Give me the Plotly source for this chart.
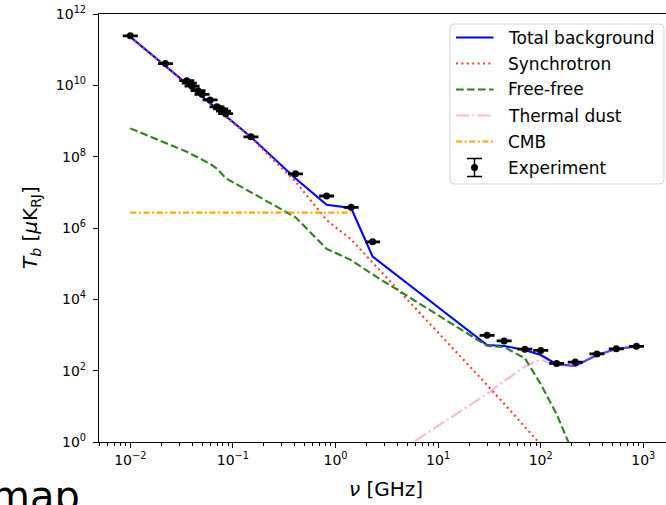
import plotly.graph_objects as go

# Frequencies (GHz) at which the measurements and the model components are given
freq_ghz = [0.010, 0.022, 0.0355, 0.0376, 0.040, 0.0457, 0.050, 0.060, 0.070, 0.076,
            0.081, 0.085, 0.150, 0.408, 0.820, 1.420, 2.300, 30.0, 44.0, 70.0,
            100.0, 143.0, 217.0, 353.0, 545.0, 857.0]

# Measured brightness temperature (uK_RJ) and its uncertainty
exp_tb = [2.45e11, 4.07e10, 1.35e10, 1.15e10, 9.5e9, 7.1e9, 5.6e9, 3.9e9, 2.5e9, 2.2e9,
          1.9e9, 1.6e9, 3.6e8, 3.3e7, 7.9e6, 3.8e6, 4.1e5, 980, 680, 400,
          370, 160, 175, 295, 410, 480]
exp_err = [9.8e9, 1.6e9, 5.4e8, 4.6e8, 3.8e8, 2.8e8, 2.2e8, 1.6e8, 1.0e8, 8.8e7,
           7.6e7, 6.4e7, 1.4e7, 1.3e6, 3.2e5, 1.5e5, 1.6e4, 39, 27, 16,
           15, 6.4, 7, 12, 16, 19]

# Model components (uK_RJ)
total_tb = [2.29e11, 3.47e10, 1.10e10, 9.55e9, 8.13e9, 6.03e9, 4.79e9, 3.09e9, 2.14e9, 1.78e9,
            1.51e9, 1.35e9, 3.55e8, 2.45e7, 4.47e6, 3.63e6, 1.58e5, 525, 490, 380,
            275, 151, 135, 275, 407, 479]
synch_tb = [2.24e11, 3.39e10, 1.07e10, 9.33e9, 8.04e9, 5.89e9, 4.68e9, 3.02e9, 2.09e9, 1.74e9,
            1.48e9, 1.32e9, 3.39e8, 2.0e7, 1.66e6, 4.8e5, 1.07e5, 39.8, 11.7, 2.8,
            0.85, 0.25, 0.063, 0.0126, 0.0032, 0.0008]
freefree_tb = [6.2e8, 2.5e8, 1.38e8, 1.26e8, 1.15e8, 9.5e7, 8.3e7, 6.3e7, 4.6e7, 3.6e7,
               3.0e7, 2.5e7, 1.0e7, 2.0e6, 2.6e5, 1.26e5, 5.0e4, 500, 457, 224,
               42, 6.0, 0.35, 3e-3, 1e-4, 1e-6]
dust_tb = [1e-9, 1.6e-8, 7.9e-8, 1e-7, 1.26e-7, 2e-7, 2.5e-7, 5e-7, 7.9e-7, 1e-6,
           1.26e-6, 1.6e-6, 1.26e-5, 4e-4, 5e-3, 0.032, 0.178, 22.4, 51, 129,
           209, 141, 135, 275, 407, 479]
cmb_freq = [0.010, 0.022, 0.0355, 0.0376, 0.040, 0.0457, 0.050, 0.060, 0.070, 0.076,
            0.081, 0.085, 0.150, 0.408, 0.820, 1.420]
cmb_tb = [2.7e6, 2.7e6, 2.7e6, 2.7e6, 2.7e6, 2.7e6, 2.7e6, 2.7e6, 2.7e6, 2.7e6,
          2.7e6, 2.7e6, 2.7e6, 2.7e6, 2.7e6, 2.7e6]

x_ticks = [1e-2, 1e-1, 1e0, 1e1, 1e2, 1e3]
x_ticktext = ["10<sup>\u22122</sup>", "10<sup>\u22121</sup>", "10<sup>0</sup>",
              "10<sup>1</sup>", "10<sup>2</sup>", "10<sup>3</sup>"]
y_ticks = [1e0, 1e2, 1e4, 1e6, 1e8, 1e10, 1e12]
y_ticktext = ["10<sup>0</sup>", "10<sup>2</sup>", "10<sup>4</sup>", "10<sup>6</sup>",
              "10<sup>8</sup>", "10<sup>10</sup>", "10<sup>12</sup>"]

FONT = "DejaVu Sans"
C_TOTAL = "#0000ff"
C_SYNCH = "#f03c28"
C_FF = "#2f7f1f"
C_DUST = "rgba(227,119,194,0.5)"
C_CMB = "#ffa500"
DOT = "2px,3.4px"
DASH = "7.7px,3.3px"
DASHDOT = "13px,3.3px,2px,3.3px"
CMB_DASH = "6px,2.6px,2px,2.6px"

# plot-area geometry in pixels (for placing the hand-built legend)
W, H = 666, 505
PL, PT, PW, PH = 99, 14, 567, 428


def px(x):
    return (x - PL) / PW


def py(y):
    return (PT + PH - y) / PH


fig = go.Figure()
fig.add_trace(go.Scatter(x=freq_ghz, y=total_tb, mode="lines",
                         line=dict(color=C_TOTAL, width=2.1), name="Total background"))
fig.add_trace(go.Scatter(x=freq_ghz, y=synch_tb, mode="lines",
                         line=dict(color=C_SYNCH, width=2.1, dash=DOT), name="Synchrotron"))
fig.add_trace(go.Scatter(x=freq_ghz, y=freefree_tb, mode="lines",
                         line=dict(color=C_FF, width=2.1, dash=DASH), name="Free-free"))
fig.add_trace(go.Scatter(x=freq_ghz, y=dust_tb, mode="lines",
                         line=dict(color=C_DUST, width=2.1, dash=DASHDOT), name="Thermal dust"))
fig.add_trace(go.Scatter(x=cmb_freq, y=cmb_tb, mode="lines",
                         line=dict(color=C_CMB, width=2.1, dash=CMB_DASH), name="CMB"))
fig.add_trace(go.Scatter(x=freq_ghz, y=exp_tb, mode="markers",
                         marker=dict(color="black", size=7),
                         error_y=dict(type="data", array=exp_err, color="black",
                                      thickness=1.5, width=7.5),
                         name="Experiment"))

# legend box and entries
x0, x1, y0, y1, r = 450, 664, 24, 184, 4
path = (f"M {px(x0 + r)} {py(y0)} L {px(x1 - r)} {py(y0)} "
        f"Q {px(x1)} {py(y0)} {px(x1)} {py(y0 + r)} L {px(x1)} {py(y1 - r)} "
        f"Q {px(x1)} {py(y1)} {px(x1 - r)} {py(y1)} L {px(x0 + r)} {py(y1)} "
        f"Q {px(x0)} {py(y1)} {px(x0)} {py(y1 - r)} L {px(x0)} {py(y0 + r)} "
        f"Q {px(x0)} {py(y0)} {px(x0 + r)} {py(y0)} Z")
shapes = [dict(type="path", xref="paper", yref="paper", path=path,
               fillcolor="rgba(255,255,255,0.8)", line=dict(color="#d3d3d3", width=1))]
annotations = []
entries = [("Total background", C_TOTAL, "solid"), ("Synchrotron", C_SYNCH, DOT),
           ("Free-free", C_FF, DASH), ("Thermal dust", C_DUST, DASHDOT),
           ("CMB", C_CMB, CMB_DASH), ("Experiment", None, None)]
row_y = [37.5, 63.5, 89.5, 115.5, 141.5, 167.5]
for (label, color, dash), yy in zip(entries, row_y):
    if color is not None:
        shapes.append(dict(type="line", xref="paper", yref="paper",
                           x0=px(456), x1=px(493.5), y0=py(yy), y1=py(yy),
                           line=dict(color=color, width=2.1, dash=dash)))
    else:
        xc = 474.5
        shapes.append(dict(type="line", xref="paper", yref="paper",
                           x0=px(xc), x1=px(xc), y0=py(yy - 9), y1=py(yy + 9),
                           line=dict(color="black", width=1.5)))
        for cap in (yy - 9, yy + 9):
            shapes.append(dict(type="line", xref="paper", yref="paper",
                               x0=px(xc - 7.5), x1=px(xc + 7.5), y0=py(cap), y1=py(cap),
                               line=dict(color="black", width=1.5)))
        shapes.append(dict(type="circle", xref="paper", yref="paper",
                           x0=px(xc - 3.5), x1=px(xc + 3.5), y0=py(yy - 3.5), y1=py(yy + 3.5),
                           fillcolor="black", line=dict(color="black", width=0)))
    annotations.append(dict(text=label, xref="paper", yref="paper", x=px(505.5), y=py(yy),
                            xanchor="left", yanchor="middle", showarrow=False,
                            font=dict(family=FONT, size=17, color="black")))

# axis titles
annotations.append(dict(text="<i>\u03bd</i> [GHz]", xref="paper", yref="paper",
                        x=px(386), y=py(489), xanchor="center", yanchor="middle",
                        showarrow=False, font=dict(family=FONT, size=20, color="black")))
annotations.append(dict(text="<i>T</i><sub><i>b</i></sub> [<i>\u03bc</i>K<sub>RJ</sub>]",
                        xref="paper", yref="paper", x=px(31), y=0.5, textangle=-90,
                        xanchor="center", yanchor="middle", showarrow=False,
                        font=dict(family=FONT, size=20, color="black")))
# neighbouring panel title, partly outside the figure
annotations.append(dict(text="map", xref="paper", yref="paper", x=px(-11), y=py(496),
                        xanchor="left", yanchor="middle", showarrow=False,
                        font=dict(family=FONT, size=40, color="black")))

minor_x = [m * 10.0 ** k for k in range(-3, 4) for m in range(2, 10)]

fig.update_layout(
    width=W, height=H,
    margin=dict(l=PL, r=0, t=PT, b=H - PT - PH),
    paper_bgcolor="white", plot_bgcolor="white",
    showlegend=False,
    font=dict(family=FONT, size=14, color="black"),
    shapes=shapes, annotations=annotations,
    xaxis=dict(type="log", range=[-2.305, 3.221], showgrid=False, zeroline=False,
               showline=True, linecolor="black", linewidth=1.2, mirror=True,
               ticks="outside", ticklen=5, tickwidth=1.1, tickcolor="black",
               tickvals=x_ticks, ticktext=x_ticktext, tickfont=dict(size=14),
               minor=dict(ticks="outside", ticklen=3, tickwidth=0.8, tickcolor="black",
                          tickvals=minor_x, showgrid=False)),
    yaxis=dict(type="log", range=[0, 12], showgrid=False, zeroline=False,
               showline=True, linecolor="black", linewidth=1.2,
               ticks="outside", ticklen=5, tickwidth=1.1, tickcolor="black",
               ticklabelstandoff=4,
               tickvals=y_ticks, ticktext=y_ticktext, tickfont=dict(size=14)),
)

fig.write_html("out.html")
